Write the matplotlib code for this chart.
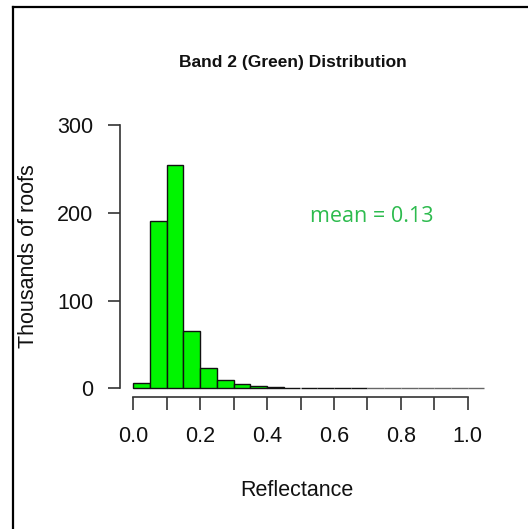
import matplotlib
matplotlib.use("Agg")
import matplotlib.pyplot as plt
from matplotlib.lines import Line2D
import numpy as np

# Histogram data (thousands of roofs per 0.05 reflectance bin)
bin_edges = [round(0.05 * i, 2) for i in range(22)]  # 0.00 .. 1.05
counts = [5.7, 191, 255, 65, 23, 9.2, 5.4, 3.0, 1.8, 0.9, 0.4, 0.2, 0.1, 0.05,
          0, 0, 0, 0, 0, 0, 0]
x_ticks = [round(0.1 * i, 1) for i in range(11)]
x_labels = ["0.0", "", "0.2", "", "0.4", "", "0.6", "", "0.8", "", "1.0"]
y_ticks = [0, 100, 200, 300]
mean_value = 0.13

W, H = 528, 529
DPI = 100
fig = plt.figure(figsize=(W / DPI, H / DPI), dpi=DPI)
fig.patch.set_facecolor("white")

plt.rcParams["font.family"] = ["Liberation Sans", "DejaVu Sans"]
FS = 15.5

# axes geometry in pixels
x0_px, x1_px = 133.3, 467.7   # data 0 and 1
y0_px, y300_px = 388.3, 125.5  # data 0 and 300 (from top)
px_per_x = x1_px - x0_px
xmax = 1.06
left = x0_px / W
width = xmax * px_per_x / W
bottom = (H - y0_px) / H
height = (y0_px - y300_px) / H
ax = fig.add_axes([left, bottom, width, height])
ax.set_xlim(0, xmax)
ax.set_ylim(0, 300)

widths = np.diff(bin_edges)
edgecols = ["#111111" if c > 0 else "#666666" for c in counts]
ax.bar(bin_edges[:-1], counts, width=widths, align="edge",
       color="#00f500", edgecolor=edgecols, linewidth=1.0, clip_on=False)

for s in ["top", "right"]:
    ax.spines[s].set_visible(False)
ax.spines["left"].set_position(("outward", 13.8 * 72 / DPI))
ax.spines["bottom"].set_position(("outward", 8.4 * 72 / DPI))
ax.spines["left"].set_bounds(0, 300)
ax.spines["bottom"].set_bounds(0, 1)
for s in ["left", "bottom"]:
    ax.spines[s].set_color("#333333")
    ax.spines[s].set_linewidth(1.2)

ax.set_xticks(x_ticks)
ax.set_xticklabels(x_labels)
ax.set_yticks(y_ticks)
ax.tick_params(axis="x", length=13 * 72 / DPI, width=1.2, color="#333333",
               pad=16 * 72 / DPI, labelsize=FS, labelcolor="#111111")
ax.tick_params(axis="y", length=12 * 72 / DPI, width=1.2, color="#333333",
               pad=14 * 72 / DPI, labelsize=FS, labelcolor="#111111")

fig.text(297 / W, 1 - 490 / H, "Reflectance", ha="center", va="center",
         fontsize=FS, color="#111111")
fig.text(29 / W, 1 - 256 / H, "Thousands of roofs", ha="center", va="center",
         rotation=90, fontsize=FS, color="#111111")

fig.text(293 / W, 1 - 62 / H, "Band 2 (Green) Distribution", ha="center",
         va="center", fontsize=12.5, fontweight="bold", color="#111111")

fig.text(372 / W, 1 - 216 / H, f"mean = {mean_value:.2f}", ha="center",
         va="center", fontsize=15.5, color="#2dbb4e",
         family=["Open Sans", "DejaVu Sans"])

# outer frame (left and top edges)
fig.add_artist(Line2D([12.5 / W, 12.5 / W], [1 - 6.7 / H, 0],
                      transform=fig.transFigure, color="black", linewidth=1.6))
fig.add_artist(Line2D([12.5 / W, 1], [1 - 6.7 / H, 1 - 6.7 / H],
                      transform=fig.transFigure, color="black", linewidth=1.6))

fig.savefig("out.png", dpi=DPI, facecolor="white")
